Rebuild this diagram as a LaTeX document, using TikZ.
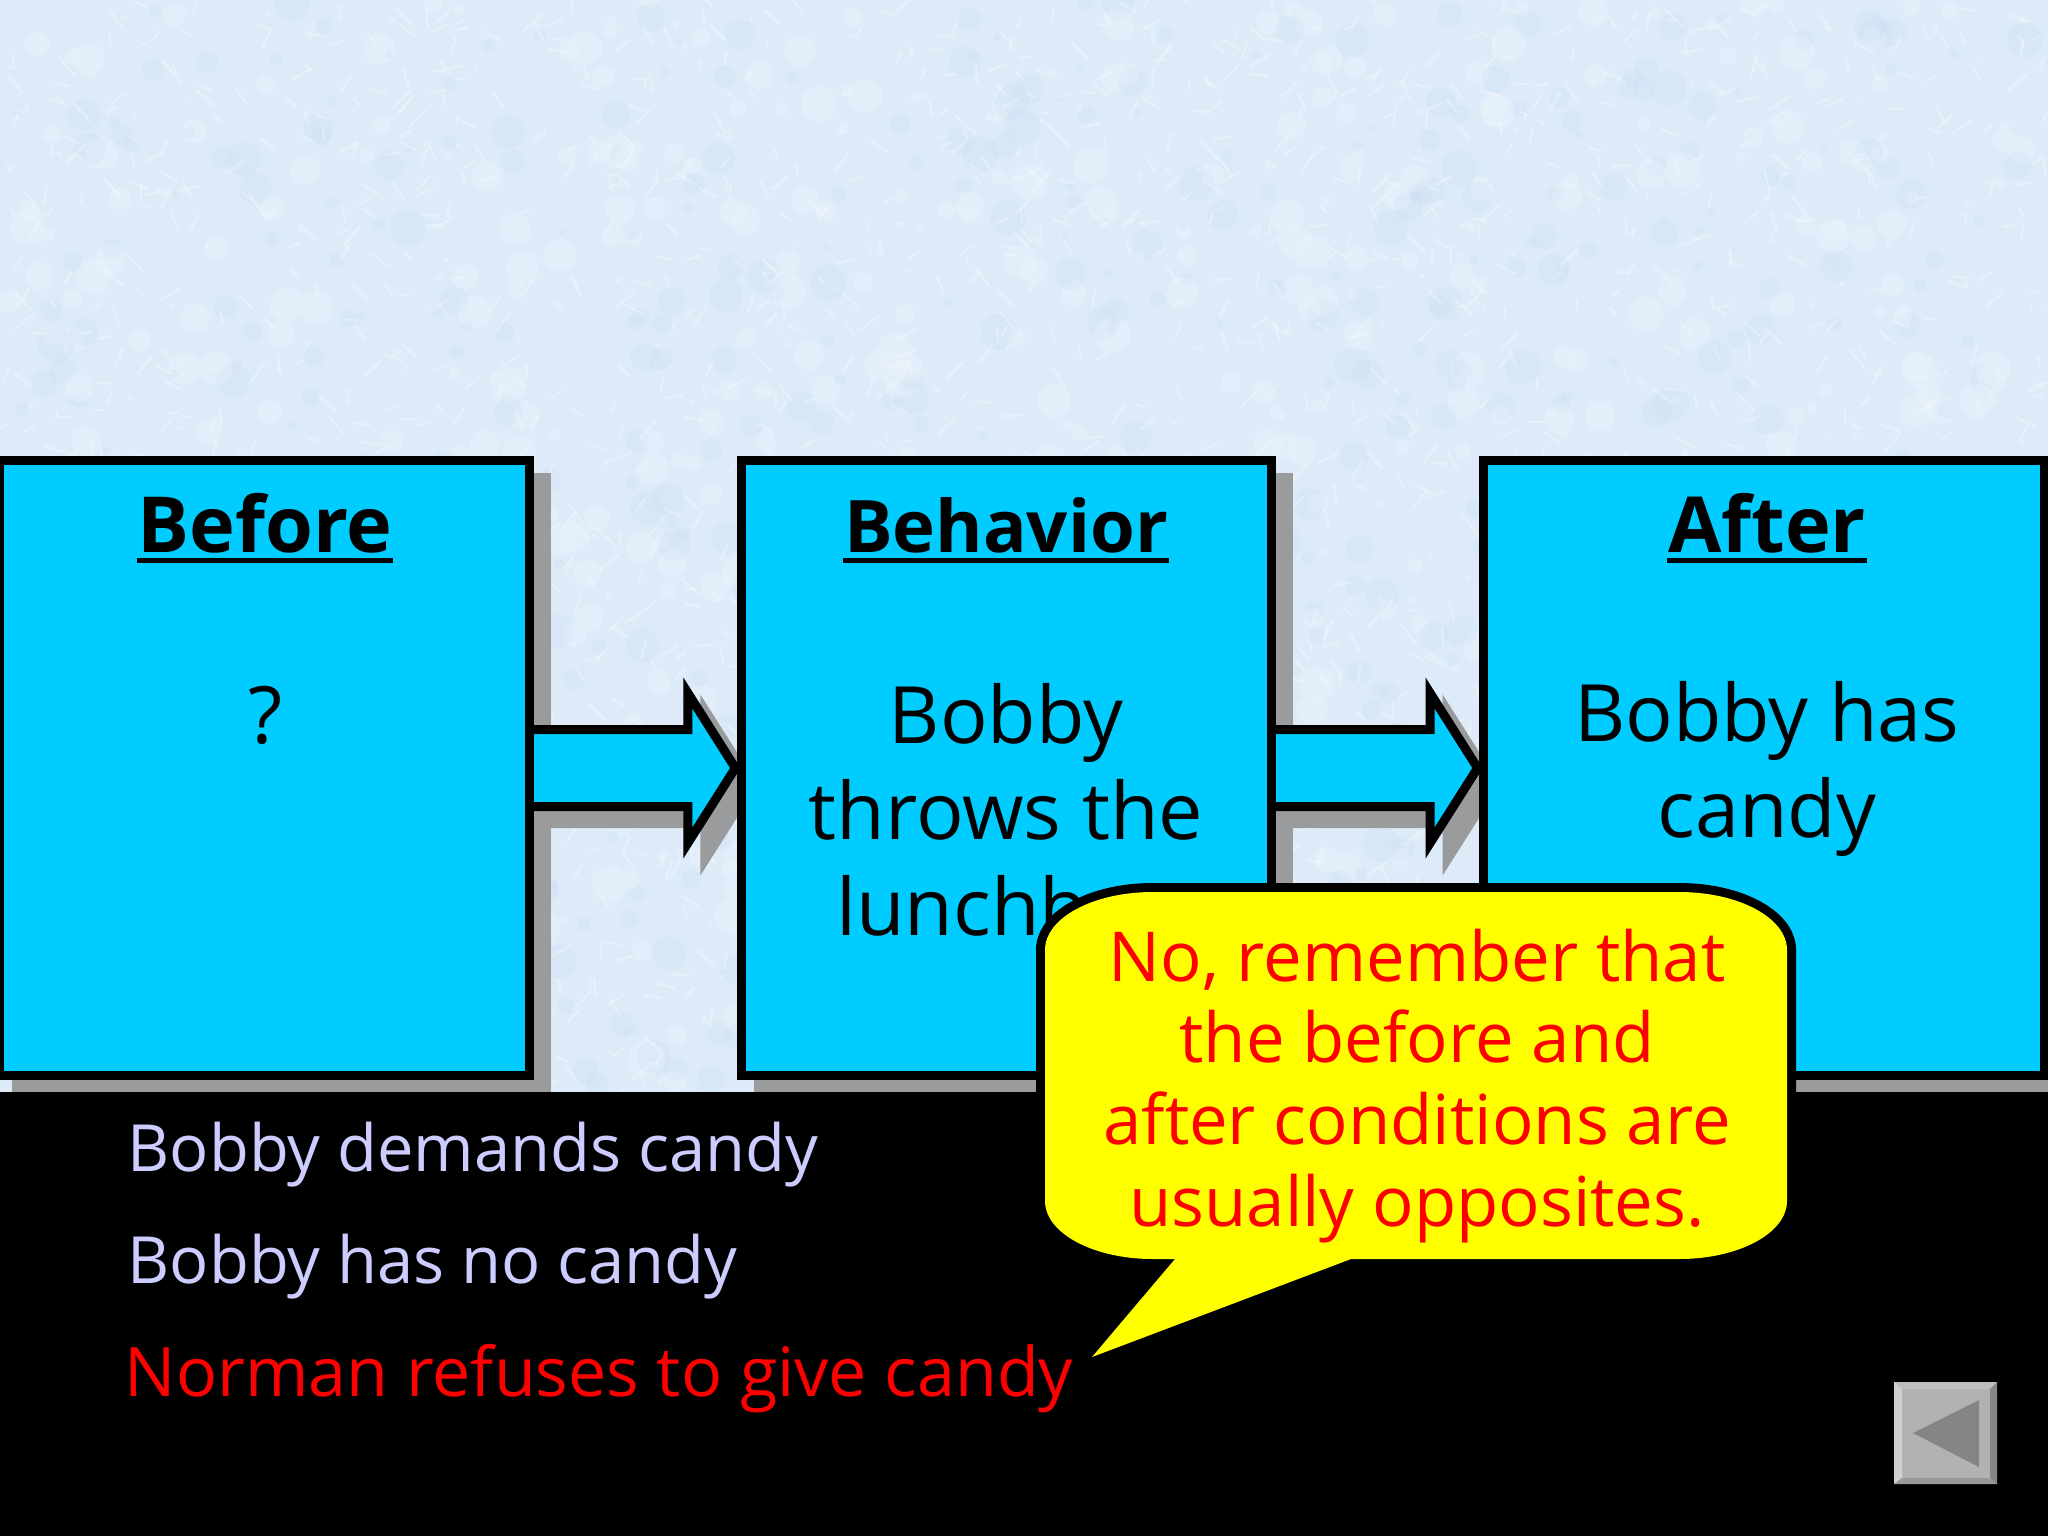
\documentclass[tikz,border=0pt]{standalone}
\usepackage{fontspec}
\setmainfont{Open Sans}
\usetikzlibrary{calc}
\definecolor{skybg}{HTML}{DDEBF8}
\definecolor{blotch}{HTML}{BFD6EE}
\definecolor{boxcyan}{HTML}{00CCFF}
\definecolor{shade}{HTML}{999B9C}
\definecolor{lav}{HTML}{CCCCFF}
\definecolor{callyellow}{HTML}{FFFF00}
\definecolor{callred}{HTML}{FF0000}
\definecolor{btnface}{HTML}{B2B2B2}
\definecolor{btntop}{HTML}{BEBEBE}
\definecolor{btnleft}{HTML}{D0D0D0}
\definecolor{btnright}{HTML}{868686}
\definecolor{btnbottom}{HTML}{999999}
\definecolor{btnmark}{HTML}{858585}
\pgfdeclarelayer{ground}
\pgfdeclarelayer{low}
\pgfdeclarelayer{mid}
\pgfsetlayers{ground,low,mid,main}
\tikzset{
  boxnode/.style={draw=black,fill=boxcyan,line width=0.09cm,rectangle,outer sep=0pt,inner sep=0pt,minimum height=6.15cm},
  shadowshape/.style={fill=shade,draw=shade,line width=0.09cm,line join=miter},
  arrowshape/.style={fill=boxcyan,draw=black,line width=0.09cm,line join=miter},
  headtext/.style={font=\fontsize{22}{27}\selectfont\bfseries,text=black,inner sep=0pt,anchor=base},
  boxtext/.style={font=\fontsize{22.5}{27.3}\selectfont,text=black,inner sep=0pt,align=center},
  calltext/.style={font=\fontsize{19.6}{23.3}\selectfont,text=callred,inner sep=0pt,align=center},
  listtext/.style={font=\fontsize{18.5}{22}\selectfont,inner sep=0pt,anchor=base west},
  underrule/.style={black,line width=0.05cm},
}
% #1 source box, #2 target box, #3 offset (0 for the arrow, 17 for its shadow)
\newcommand{\arrowpath}[3]{
  ($(#1.east)+(#3,-38.5+#3)$) -- ($(#2.west)+(-53.5+#3,-38.5+#3)$) -- ($(#2.west)+(-53.5+#3,-75+#3)$)
  -- ($(#2.west)+(-6+#3,#3)$) -- ($(#2.west)+(-53.5+#3,75+#3)$) -- ($(#2.west)+(-53.5+#3,38.5+#3)$)
  -- ($(#1.east)+(#3,38.5+#3)$)
}
\newcommand{\boxshadow}[1]{
  \draw[shadowshape] ($(#1.north west)+(17,17)$) rectangle ($(#1.south east)+(17,17)$);
}
\begin{document}
\begin{tikzpicture}[x=0.01cm,y=-0.01cm]
\useasboundingbox (0,0) rectangle (2048,1536);

\node[boxnode,minimum width=5.295cm] (before) at (264.75,768) {};
\node[boxnode,minimum width=5.295cm] (behavior) at (1006.25,768) {};
\node[boxnode,minimum width=5.605cm] (after) at (1764,768) {};

\begin{pgfonlayer}{ground}
\fill[skybg] (0,0) rectangle (2048,1100);
\pgfmathsetseed{4242}
\foreach \i in {1,...,1300}{
  \pgfmathsetmacro{\px}{random(0,2048)}
  \pgfmathsetmacro{\py}{random(0,1100)}
  \pgfmathsetmacro{\pr}{random(4,18)}
  \pgfmathparse{mod(\i,2)==0?"white":"blotch"}
  \edef\pc{\pgfmathresult}
  \fill[\pc,opacity=0.16] (\px,\py) circle[radius=\pr];
}
\foreach \i in {1,...,2200}{
  \pgfmathsetmacro{\px}{random(0,2048)}
  \pgfmathsetmacro{\py}{random(0,1100)}
  \pgfmathsetmacro{\dx}{random(-20,20)}
  \pgfmathsetmacro{\dy}{random(-20,20)}
  \draw[white,opacity=0.25,line width=0.025cm] (\px,\py) -- ++(\dx,\dy);
}
\end{pgfonlayer}

\begin{pgfonlayer}{low}
\boxshadow{before}
\boxshadow{behavior}
\boxshadow{after}
\draw[shadowshape] \arrowpath{before}{behavior}{17};
\draw[shadowshape] \arrowpath{behavior}{after}{17};
\end{pgfonlayer}
\begin{pgfonlayer}{mid}
\fill[black] (0,1092) rectangle (2048,1536);
\draw[arrowshape] \arrowpath{before}{behavior}{0};
\draw[arrowshape] \arrowpath{behavior}{after}{0};
\end{pgfonlayer}

\node[headtext] (hbefore) at (265,552) {Before};
\node[headtext,font=\fontsize{20.6}{27}\selectfont\bfseries] (hbehavior) at (1006,552) {Behavior};
\node[headtext] (hafter) at (1767,552) {After};
\draw[underrule] ($(hbefore.base west)+(0,8)$) -- ($(hbefore.base east)+(0,8)$);
\draw[underrule] ($(hbehavior.base west)+(0,8)$) -- ($(hbehavior.base east)+(0,8)$);
\draw[underrule] ($(hafter.base west)+(0,8)$) -- ($(hafter.base east)+(0,8)$);

\node[boxtext] (tbefore) at (265,715) {?};
\node[boxtext] (tbehavior) at (1006,810) {Bobby\\throws the\\lunchbox};
\node[boxtext] (tafter) at (1767,769) {Bobby has\\candy};

\path[draw=black,fill=black,line width=0.18cm,line join=round]
  (1153,892) -- (1679,892) .. controls (1739,892) and (1787,918) .. (1787,950)
  -- (1787,1201) .. controls (1787,1233) and (1739,1259) .. (1679,1259)
  -- (1351,1259) -- (1092,1357) -- (1175,1259) -- (1153,1259)
  .. controls (1093,1259) and (1045,1233) .. (1045,1201)
  -- (1045,950) .. controls (1045,918) and (1093,892) .. (1153,892) -- cycle;
\path[fill=callyellow]
  (1153,892) -- (1679,892) .. controls (1739,892) and (1787,918) .. (1787,950)
  -- (1787,1201) .. controls (1787,1233) and (1739,1259) .. (1679,1259)
  -- (1351,1259) -- (1092,1357) -- (1175,1259) -- (1153,1259)
  .. controls (1093,1259) and (1045,1233) .. (1045,1201)
  -- (1045,950) .. controls (1045,918) and (1093,892) .. (1153,892) -- cycle;
\node[calltext] (tcall) at (1417,1086) {No, remember that\\the before and\\after conditions are\\usually opposites.};

\node[listtext,text=lav] (l1) at (127,1171) {Bobby demands candy};
\node[listtext,text=lav] (l2) at (127,1283) {Bobby has no candy};
\node[listtext,text=callred,font=\fontsize{19.4}{22}\selectfont] (l3) at (124,1396) {Norman refuses to give candy};

% return button
\fill[btnface] (1894,1382) rectangle (1997,1484);
\fill[btntop] (1894,1382) -- (1997,1382) -- (1990,1389) -- (1902,1389) -- cycle;
\fill[btnleft] (1894,1382) -- (1902,1389) -- (1902,1478) -- (1894,1484) -- cycle;
\fill[btnright] (1997,1382) -- (1990,1389) -- (1990,1478) -- (1997,1484) -- cycle;
\fill[btnbottom] (1894,1484) -- (1902,1478) -- (1990,1478) -- (1997,1484) -- cycle;
\fill[btnmark] (1913,1433) -- (1979,1400) -- (1979,1467) -- cycle;
\end{tikzpicture}
\end{document}
